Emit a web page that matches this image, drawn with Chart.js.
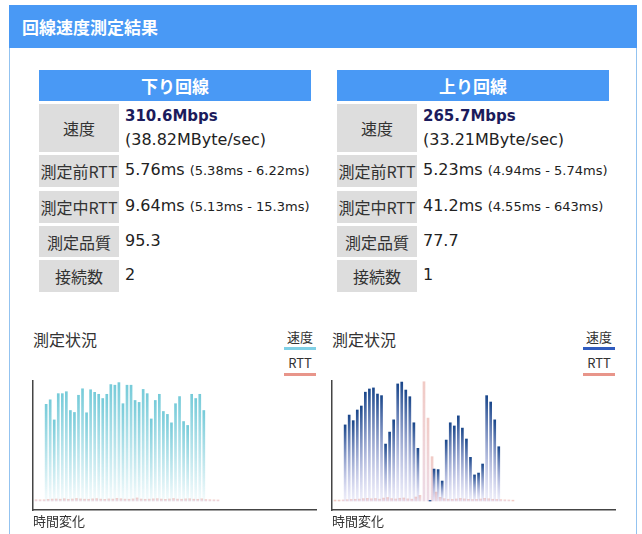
<!DOCTYPE html>
<html lang="ja"><head><meta charset="utf-8">
<script src="https://cdn.jsdelivr.net/npm/chart.js@4.4.1/dist/chart.umd.min.js"></script>
<style>
html,body{margin:0;padding:0;background:#fff;}
body{width:642px;height:534px;overflow:hidden;position:relative;font-family:"Noto Sans CJK JP","Noto Sans",sans-serif;color:#333;}
.abs{position:absolute;}
#hdr{left:9px;top:5px;width:628px;height:43px;background:#4999f5;color:#fff;font-weight:bold;font-size:17px;line-height:43px;padding-left:13px;box-sizing:border-box;}
#box{left:9px;top:48px;width:628px;height:520px;border:1px solid #93c3f0;border-top:none;box-sizing:border-box;}
.th{height:31px;width:272px;background:#4999f5;color:#fff;font-weight:bold;font-size:17px;line-height:31px;text-align:center;}
.lab{width:80px;background:#dddddd;font-size:16px;display:flex;align-items:center;justify-content:center;white-space:nowrap;color:#333;}
.val{font-family:"DejaVu Sans","Noto Sans CJK JP",sans-serif;font-size:16px;color:#222;white-space:nowrap;line-height:20px;}
.small{font-size:13px;}
.big{font-weight:bold;font-size:15px;color:#1b1b5c;}
.ttl{font-size:16px;line-height:20px;}
.xl{font-size:13px;line-height:16px;}
.leg{font-size:13px;width:32px;text-align:center;line-height:16px;font-family:"Noto Sans CJK JP",sans-serif;}
.legline{width:32px;height:3px;}
canvas{position:absolute;}
</style></head><body>
<div id="hdr" class="abs">回線速度測定結果</div>
<div id="box" class="abs"></div>
<canvas id="cDown" width="292" height="140" style="left:28px;top:376px;"></canvas>
<canvas id="cUp" width="292" height="140" style="left:327px;top:376px;"></canvas>
<script>
// ---- data ----
const rowLabels = ["速度", "測定前RTT", "測定中RTT", "測定品質", "接続数"];
const downMain = ["310.6Mbps", "5.76ms", "9.64ms", "95.3", "2"];
const downSub  = ["(38.82MByte/sec)", "(5.38ms - 6.22ms)", "(5.13ms - 15.3ms)", "", ""];
const upMain   = ["265.7Mbps", "5.23ms", "41.2ms", "77.7", "1"];
const upSub    = ["(33.21MByte/sec)", "(4.94ms - 5.74ms)", "(4.55ms - 643ms)", "", ""];

const timeSlots = ["1","2","3","4","5","6","7","8","9","10","11","12","13","14","15","16","17","18","19","20",
  "21","22","23","24","25","26","27","28","29","30","31","32","33","34","35","36","37","38","39","40",
  "41","42","43","44","45","46","47","48","49","50","51","52","53","54","55","56","57","58","59","60",
  "61","62","63","64","65","66","67","68","69","70"];

// Mbps
const downSpeed = [null,null,null,
  298,312,250,331,331,337,279,273,326,346,
  272,343,335,329,316,329,359,357,365,300,
  357,357,310,304,344,331,253,310,329,276,
  267,241,300,322,245,233,329,316,329,279];
// ms
const downRtt = [6.1,5.8,6.0,
  8.2,9.5,10.1,9.0,11.2,8.7,9.9,12.4,10.3,9.1,
  8.8,10.6,11.8,9.4,8.5,10.2,9.7,12.9,11.1,9.3,
  8.9,10.4,15.3,9.8,8.6,9.2,10.7,11.5,9.6,8.3,
  10.0,12.1,9.4,8.8,10.5,11.3,9.0,8.7,10.9,7.2,
  6.4,5.6,5.13];
// Mbps
const upSpeed = [null,null,null,
  286,323,302,342,357,409,421,425,402,396,
  214,259,305,440,447,417,392,294,198,null,
  null,2,120,118,75,229,294,282,320,274,
  233,164,98,105,139,396,372,305,204];
// ms
const upRtt = [5.2,5.0,5.5,
  6.8,8.1,9.4,10.2,12.5,14.0,11.8,13.2,9.9,15.6,
  18.4,12.7,10.9,14.8,16.2,11.4,9.8,21.5,30.2,643,
  447,239,48,19.6,12.3,9.5,8.7,10.8,13.9,11.2,
  9.1,7.8,8.4,10.6,14.1,12.0,9.3,8.2,7.5,6.1,
  5.4,4.55];

// ---- tables ----
function el(cls, style, html){
  const d = document.createElement('div');
  d.className = 'abs ' + cls; d.setAttribute('style', style); d.innerHTML = html;
  document.body.appendChild(d); return d;
}
function makeSide(L, title, main, sub){
  el('th', `left:${L}px;top:70px;`, title);
  const tops = [104,155,191,226,260], hs = [48,32,32,31,32];
  rowLabels.forEach((lab,i)=>{
    el('lab', `left:${L}px;top:${tops[i]}px;height:${hs[i]}px;`, lab);
    if(i===0){
      el('val big', `left:${L+86}px;top:106px;`, main[0]);
      el('val', `left:${L+86}px;top:130px;`, sub[0]);
    } else {
      const c = tops[i] + hs[i]/2;
      el('val', `left:${L+86}px;top:${c-11}px;`, main[i] + (sub[i] ? ' <span class="small">'+sub[i]+'</span>' : ''));
    }
  });
}
makeSide(39, "下り回線", downMain, downSub);
makeSide(337, "上り回線", upMain, upSub);

function legend(x, spColor){
  el('ttl', `left:${x}px;top:329px;`, '測定状況');
  el('xl', `left:${x}px;top:513px;`, '時間変化');
  const lx = x + 251;
  el('leg', `left:${lx}px;top:329px;`, '速度');
  el('legline', `left:${lx}px;top:347px;background:${spColor};`, '');
  el('leg', `left:${lx}px;top:355px;`, 'RTT');
  el('legline', `left:${lx}px;top:373px;background:#e8958a;`, '');
}
legend(33, '#7fd0e6');
legend(332, '#2f5bbf');

// ---- charts ----
// per-bar vertical gradient: full colour at the bar's top, fading towards the zero line
function grad(c, axisId, top, bot){
  const ch = c.chart; const a = ch.chartArea;
  if(!a || c.type !== 'data' || c.raw == null) return top;
  const sc = ch.scales[axisId];
  const y0 = sc.getPixelForValue(0);
  const yt = sc.getPixelForValue(c.raw);
  if (y0 - yt < 1) return top;
  const g = ch.ctx.createLinearGradient(0, yt, 0, y0);
  g.addColorStop(0, top); g.addColorStop(1, bot);
  return g;
}
function makeChart(id, speed, rtt, spMax, rttMax, topCol, botCol){
  new Chart(document.getElementById(id), {
    type: 'bar',
    data: { labels: timeSlots, datasets: [
      { label: '速度', data: speed, yAxisID: 'y', categoryPercentage: 1, barPercentage: 1, borderWidth: 0,
        backgroundColor: c => grad(c, 'y', topCol, botCol) },
      { label: 'RTT', data: rtt, yAxisID: 'y2', categoryPercentage: 1, barPercentage: 1, borderWidth: 0,
        backgroundColor: c => grad(c, 'y2', 'rgba(230,160,150,0.55)', 'rgba(215,175,200,0.45)') }
    ]},
    options: {
      animation: false, responsive: false, maintainAspectRatio: false, events: [],
      layout: { padding: { left: 5, top: 5, right: 4, bottom: 6 } },
      plugins: { legend: { display: false }, tooltip: { enabled: false } },
      scales: {
        x: { display: true, grid: { display: false, drawTicks: false }, ticks: { display: false },
             border: { display: true, color: '#444', width: 1.5 } },
        y: { display: true, min: -spMax * 0.075, max: spMax, grid: { display: false, drawTicks: false },
             ticks: { display: false }, border: { display: true, color: '#444', width: 1.5 } },
        y2: { display: false, min: -rttMax * 0.075, max: rttMax }
      }
    }
  });
}
makeChart('cDown', downSpeed, downRtt, 370, 600, 'rgba(118,203,217,1)', 'rgba(118,203,217,0.07)');
makeChart('cUp', upSpeed, upRtt, 451, 647, 'rgb(25,70,138)', 'rgba(150,150,220,0.15)');
</script>
</body></html>
